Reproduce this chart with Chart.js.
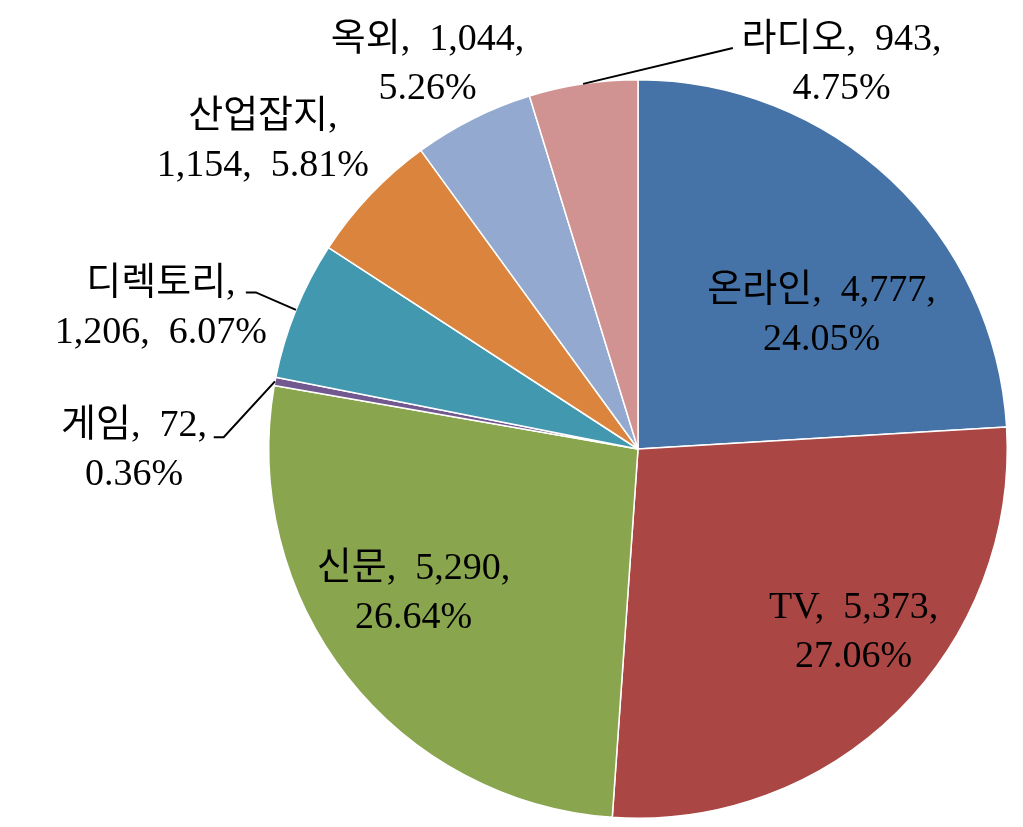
<!DOCTYPE html>
<html lang="ko">
<head>
    <meta charset="UTF-8">
    <title>매체별 광고비</title>
    <style>
        body {
            margin: 0;
            background-color: #ffffff;
        }
        .chart-box {
            width: 1023px;
            height: 827px;
            position: relative;
        }
    </style>
</head>
<body>
    <div class="chart-box">
        <canvas id="pieChart"></canvas>
    </div>

    <script src="https://cdn.jsdelivr.net/npm/chart.js"></script>
    <script>
        // chart data
        const categories = ['온라인', 'TV', '신문', '게임', '디렉토리', '산업잡지', '옥외', '라디오'];
        const values = [4777, 5373, 5290, 72, 1206, 1154, 1044, 943];
        const sliceColors = ['#4572a7', '#aa4643', '#89a54e', '#71588f', '#4198af', '#db843d', '#93a9cf', '#d19392'];

        // where the text line breaks: after the name, or after the value
        const breakAfter = ['value', 'value', 'value', 'value', 'name', 'name', 'value', 'value'];

        // label centres, in units of the pie radius from the pie centre
        const labelPos = [
            [0.497, -0.362],
            [0.584, 0.497],
            [-0.608, 0.392],
            [-1.365, 0.005],
            [-1.292, -0.381],
            [-1.016, -0.832],
            [-0.570, -1.040],
            [0.551, -1.040]
        ];

        // leader lines (elbow points in radius units), start is the middle of the slice edge
        const leaders = {
            3: [[-1.122, -0.032], [-1.149, -0.032]],
            4: [[-1.035, -0.424], [-1.062, -0.424]],
            7: [[0.257, -1.086]]
        };

        const total = values.reduce((s, v) => s + v, 0);

        function labelLines(i) {
            const name = categories[i];
            const val = values[i].toLocaleString('en-US');
            const pct = (values[i] / total * 100).toFixed(2) + '%';
            if (breakAfter[i] === 'name') {
                return [name + ',', val + ',  ' + pct];
            }
            return [name + ',  ' + val + ',', pct];
        }

        const pieLabels = {
            id: 'pieLabels',
            afterDatasetsDraw(chart) {
                const ctx = chart.ctx;
                const arcs = chart.getDatasetMeta(0).data;
                ctx.save();

                // leader lines
                ctx.strokeStyle = '#000000';
                ctx.lineWidth = 2;
                Object.keys(leaders).forEach(key => {
                    const arc = arcs[key];
                    const r = arc.outerRadius;
                    const mid = (arc.startAngle + arc.endAngle) / 2;
                    ctx.beginPath();
                    ctx.moveTo(arc.x + Math.cos(mid) * r, arc.y + Math.sin(mid) * r);
                    leaders[key].forEach(p => {
                        ctx.lineTo(arc.x + p[0] * r, arc.y + p[1] * r);
                    });
                    ctx.stroke();
                });

                // text
                ctx.font = "38px 'Liberation Serif', 'DejaVu Serif', 'Noto Sans CJK KR', serif";
                ctx.fillStyle = '#000000';
                ctx.textAlign = 'center';
                ctx.textBaseline = 'middle';
                const lineGap = 49;
                arcs.forEach((arc, i) => {
                    const r = arc.outerRadius;
                    const cx = arc.x + labelPos[i][0] * r;
                    const cy = arc.y + labelPos[i][1] * r;
                    const lines = labelLines(i);
                    ctx.fillText(lines[0], cx, cy - lineGap / 2);
                    ctx.fillText(lines[1], cx, cy + lineGap / 2);
                });
                ctx.restore();
            }
        };

        const ctx = document.getElementById('pieChart').getContext('2d');
        new Chart(ctx, {
            type: 'pie',
            data: {
                labels: categories,
                datasets: [{
                    data: values,
                    backgroundColor: sliceColors,
                    borderColor: '#ffffff',
                    borderWidth: 1.5,
                    hoverOffset: 0
                }]
            },
            options: {
                responsive: true,
                maintainAspectRatio: false,
                animation: false,
                layout: {
                    padding: { left: 268, right: 15, top: 79, bottom: 8 }
                },
                plugins: {
                    legend: { display: false },
                    tooltip: { enabled: false }
                }
            },
            plugins: [pieLabels]
        });
    </script>
</body>
</html>
